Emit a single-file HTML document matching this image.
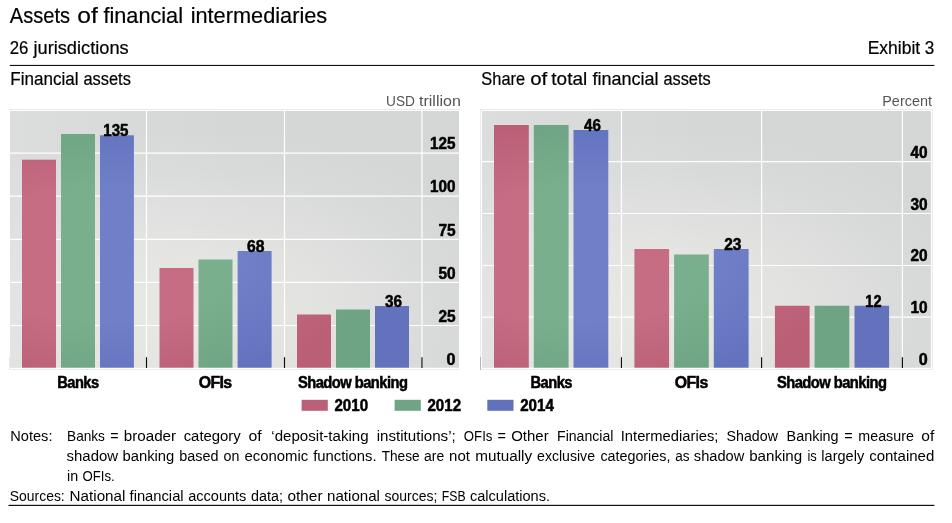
<!DOCTYPE html>
<html><head><meta charset="utf-8"><title>Assets of financial intermediaries</title>
<style>
html,body{margin:0;padding:0;background:#fff;}
body{width:952px;height:523px;overflow:hidden;position:relative;font-family:"Liberation Sans",sans-serif;}
svg{position:absolute;left:0;top:0;display:block;}
text{font-family:"Liberation Sans",sans-serif;}
.t{fill:#000;stroke:#000;stroke-width:0.2px;}
.ax{font-weight:bold;fill:#000;stroke:#000;stroke-width:0.5px;stroke-linejoin:round;}
.r{fill:#bb6077;} .g{fill:#6fa584;} .b{fill:#6171bc;}
.gl{stroke:#fff;stroke-width:1.2;fill:none;}
.tk{stroke:#0a0a0a;stroke-width:1.15;fill:none;}
.note{fill:#000;}
.u{fill:#555;}
</style></head><body>
<svg width="952" height="523" viewBox="0 0 952 523">
<defs>
<radialGradient id="hl" cx="0.42" cy="0.78" r="0.72" gradientUnits="objectBoundingBox">
<stop offset="0" stop-color="#fffff4" stop-opacity="0.44"/>
<stop offset="0.4" stop-color="#fffff6" stop-opacity="0.31"/>
<stop offset="0.75" stop-color="#fff" stop-opacity="0.09"/>
<stop offset="1" stop-color="#fff" stop-opacity="0"/>
</radialGradient>
<linearGradient id="hl3" x1="0" y1="0" x2="1" y2="0"><stop offset="0" stop-color="#fff" stop-opacity="0.17"/><stop offset="0.5" stop-color="#fff" stop-opacity="0"/></linearGradient>
</defs>
<rect width="952" height="523" fill="#fff"/>

<text class="t" transform="translate(9.75 22.9) scale(0.9265 1)" font-size="21.7">Assets</text>
<text class="t" transform="translate(77.25 22.9) scale(1.1334 1)" font-size="21.7">of</text>
<text class="t" transform="translate(103.45 22.9) scale(0.9991 1)" font-size="21.7">financial</text>
<text class="t" transform="translate(190.65 22.9) scale(1.0029 1)" font-size="21.7">intermediaries</text>
<text class="t" transform="translate(9.75 53.9) scale(0.9607 1)" font-size="17.5">26</text>
<text class="t" transform="translate(33.45 53.9) scale(1.0413 1)" font-size="17.5">jurisdictions</text>
<text class="t" transform="translate(867.65 53.8) scale(0.9995 1)" font-size="17.5">Exhibit</text>
<text class="t" transform="translate(924.75 53.8) scale(0.9761 1)" font-size="17.5">3</text>
<rect x="9.8" y="64.9" width="924.6" height="1.1" fill="#111"/>
<text class="t" transform="translate(10.25 84.6) scale(0.9584 1)" font-size="17.8">Financial</text>
<text class="t" transform="translate(83.45 84.6) scale(0.9224 1)" font-size="17.8">assets</text>
<text class="t" transform="translate(481.35 84.6) scale(0.9210 1)" font-size="17.8">Share</text>
<text class="t" transform="translate(530.25 84.6) scale(1.1464 1)" font-size="17.8">of</text>
<text class="t" transform="translate(551.35 84.6) scale(1.0652 1)" font-size="17.8">total</text>
<text class="t" transform="translate(592.45 84.6) scale(1.0117 1)" font-size="17.8">financial</text>
<text class="t" transform="translate(663.45 84.6) scale(0.9185 1)" font-size="17.8">assets</text>
<text class="u" transform="translate(386.05 105.6) scale(0.9777 1)" font-size="14">USD</text>
<text class="u" transform="translate(419.05 105.6) scale(1.1432 1)" font-size="14">trillion</text>
<text class="u" transform="translate(882.25 105.7) scale(1.0301 1)" font-size="14">Percent</text>
<rect x="9" y="109" width="451" height="1" fill="#e9e9e9"/>
<rect x="9" y="369" width="451" height="1" fill="#ececec"/>
<rect x="9.2" y="357" width="0.7" height="12.6" fill="#e0e0e0"/>
<rect x="10" y="111" width="449" height="256.7" fill="#d5d6d6"/>
<rect x="10" y="111" width="449" height="256.7" fill="url(#hl)"/>
<rect x="10" y="111" width="449" height="256.7" fill="url(#hl3)"/>
<line class="gl" x1="10" x2="459" y1="153.10000000000002" y2="153.10000000000002"/>
<line class="gl" x1="10" x2="459" y1="196.20000000000002" y2="196.20000000000002"/>
<line class="gl" x1="10" x2="459" y1="239.3" y2="239.3"/>
<line class="gl" x1="10" x2="459" y1="282.40000000000003" y2="282.40000000000003"/>
<line class="gl" x1="10" x2="459" y1="325.5" y2="325.5"/>
<line class="gl" x1="146.5" x2="146.5" y1="111" y2="367.7"/>
<line class="gl" x1="284.5" x2="284.5" y1="111" y2="367.7"/>
<line class="gl" x1="421.95" x2="421.95" y1="111" y2="367.7"/>
<radialGradient id="c10r" gradientUnits="userSpaceOnUse" cx="0" cy="0" r="1" gradientTransform="translate(108.8 254.8) scale(269.4 133.5)"><stop offset="0" stop-color="#c66d83"/><stop offset="0.5" stop-color="#c66d83"/><stop offset="1" stop-color="#ba5f76"/></radialGradient>
<radialGradient id="c10g" gradientUnits="userSpaceOnUse" cx="0" cy="0" r="1" gradientTransform="translate(108.8 254.8) scale(269.4 133.5)"><stop offset="0" stop-color="#79af8d"/><stop offset="0.5" stop-color="#79af8d"/><stop offset="1" stop-color="#6ea483"/></radialGradient>
<radialGradient id="c10b" gradientUnits="userSpaceOnUse" cx="0" cy="0" r="1" gradientTransform="translate(108.8 254.8) scale(269.4 133.5)"><stop offset="0" stop-color="#6f7fc8"/><stop offset="0.5" stop-color="#6f7fc8"/><stop offset="1" stop-color="#6272bd"/></radialGradient>
<rect x="22" y="159.7" width="34.00" height="208.00" fill="url(#c10r)"/>
<rect x="61" y="134" width="34.00" height="233.70" fill="url(#c10g)"/>
<rect x="100" y="135.3" width="33.90" height="232.40" fill="url(#c10b)"/>
<rect x="159.5" y="268" width="34.00" height="99.70" fill="url(#c10r)"/>
<rect x="198.5" y="259.5" width="34.00" height="108.20" fill="url(#c10g)"/>
<rect x="237.6" y="251" width="34.00" height="116.70" fill="url(#c10b)"/>
<rect x="297" y="314.5" width="34.00" height="53.20" fill="url(#c10r)"/>
<rect x="336" y="309.5" width="34.00" height="58.20" fill="url(#c10g)"/>
<rect x="375" y="306" width="34.00" height="61.70" fill="url(#c10b)"/>
<line class="tk" x1="146.5" x2="146.5" y1="357.2" y2="367.9"/>
<line class="tk" x1="284.5" x2="284.5" y1="357.2" y2="367.9"/>
<line class="tk" x1="421.95" x2="421.95" y1="357.2" y2="367.9"/>
<text class="ax" transform="translate(430.12 149.2) scale(0.9375 1)" font-size="16.3">125</text>
<text class="ax" transform="translate(430.12 192.3) scale(0.9375 1)" font-size="16.3">100</text>
<text class="ax" transform="translate(438.42 235.5) scale(0.9479 1)" font-size="16.3">75</text>
<text class="ax" transform="translate(438.42 278.6) scale(0.9479 1)" font-size="16.3">50</text>
<text class="ax" transform="translate(438.42 321.8) scale(0.9479 1)" font-size="16.3">25</text>
<text class="ax" transform="translate(446.62 365.0) scale(0.9903 1)" font-size="16.3">0</text>
<text class="ax" transform="translate(103.27 136.3) scale(0.9246 1)" font-size="16.3">135</text>
<text class="ax" transform="translate(246.92 251.7) scale(0.9645 1)" font-size="16.3">68</text>
<text class="ax" transform="translate(384.92 306.7) scale(0.9424 1)" font-size="16.3">36</text>
<text class="ax" transform="translate(57.35 388.0) scale(0.9406 1)" font-size="15.6" letter-spacing="-0.6">Banks</text>
<text class="ax" transform="translate(198.65 388.0) scale(1.0200 1)" font-size="15.6" letter-spacing="-0.6">OFIs</text>
<text class="ax" transform="translate(297.95 388.0) scale(0.9473 1)" font-size="15.6" letter-spacing="-0.6">Shadow banking</text>
<rect x="480.2" y="109" width="452.8" height="1" fill="#e9e9e9"/>
<rect x="480.2" y="369" width="452.8" height="1" fill="#ececec"/>
<rect x="480.2" y="109" width="0.8" height="261" fill="#e4e4e4"/>
<rect x="932" y="109" width="1" height="261" fill="#ececec"/>
<rect x="480.2" y="357" width="0.8" height="12.8" fill="#a8a8a8"/>
<rect x="482" y="111" width="448.9" height="256.7" fill="#d5d6d6"/>
<rect x="482" y="111" width="448.9" height="256.7" fill="url(#hl)"/>
<rect x="482" y="111" width="448.9" height="256.7" fill="url(#hl3)"/>
<line class="gl" x1="482" x2="930.9" y1="161.60000000000002" y2="161.60000000000002"/>
<line class="gl" x1="482" x2="930.9" y1="213.5" y2="213.5"/>
<line class="gl" x1="482" x2="930.9" y1="265.5" y2="265.5"/>
<line class="gl" x1="482" x2="930.9" y1="317.1" y2="317.1"/>
<line class="gl" x1="621.45" x2="621.45" y1="111" y2="367.7"/>
<line class="gl" x1="761.6" x2="761.6" y1="111" y2="367.7"/>
<line class="gl" x1="902.4" x2="902.4" y1="111" y2="367.7"/>
<radialGradient id="c482r" gradientUnits="userSpaceOnUse" cx="0" cy="0" r="1" gradientTransform="translate(580.8 254.8) scale(269.3 133.5)"><stop offset="0" stop-color="#c66d83"/><stop offset="0.5" stop-color="#c66d83"/><stop offset="1" stop-color="#ba5f76"/></radialGradient>
<radialGradient id="c482g" gradientUnits="userSpaceOnUse" cx="0" cy="0" r="1" gradientTransform="translate(580.8 254.8) scale(269.3 133.5)"><stop offset="0" stop-color="#79af8d"/><stop offset="0.5" stop-color="#79af8d"/><stop offset="1" stop-color="#6ea483"/></radialGradient>
<radialGradient id="c482b" gradientUnits="userSpaceOnUse" cx="0" cy="0" r="1" gradientTransform="translate(580.8 254.8) scale(269.3 133.5)"><stop offset="0" stop-color="#6f7fc8"/><stop offset="0.5" stop-color="#6f7fc8"/><stop offset="1" stop-color="#6272bd"/></radialGradient>
<rect x="494" y="125" width="34.80" height="242.70" fill="url(#c482r)"/>
<rect x="533.8" y="125" width="34.80" height="242.70" fill="url(#c482g)"/>
<rect x="573.5" y="130" width="34.80" height="237.70" fill="url(#c482b)"/>
<rect x="634.4" y="249" width="34.70" height="118.70" fill="url(#c482r)"/>
<rect x="674.1" y="254.5" width="34.70" height="113.20" fill="url(#c482g)"/>
<rect x="713.8" y="249" width="34.80" height="118.70" fill="url(#c482b)"/>
<rect x="774.9" y="305.75" width="34.70" height="61.95" fill="url(#c482r)"/>
<rect x="814.6" y="305.75" width="34.70" height="61.95" fill="url(#c482g)"/>
<rect x="854.5" y="305.75" width="34.60" height="61.95" fill="url(#c482b)"/>
<line class="tk" x1="621.45" x2="621.45" y1="357.2" y2="367.9"/>
<line class="tk" x1="761.6" x2="761.6" y1="357.2" y2="367.9"/>
<line class="tk" x1="902.4" x2="902.4" y1="357.2" y2="367.9"/>
<text class="ax" transform="translate(910.52 157.7) scale(0.9479 1)" font-size="16.3">40</text>
<text class="ax" transform="translate(910.52 209.6) scale(0.9479 1)" font-size="16.3">30</text>
<text class="ax" transform="translate(910.52 261.4) scale(0.9479 1)" font-size="16.3">20</text>
<text class="ax" transform="translate(910.52 312.7) scale(0.9479 1)" font-size="16.3">10</text>
<text class="ax" transform="translate(918.72 365.0) scale(0.9903 1)" font-size="16.3">0</text>
<text class="ax" transform="translate(584.12 131.3) scale(0.9314 1)" font-size="16.3">46</text>
<text class="ax" transform="translate(724.22 250.0) scale(0.9535 1)" font-size="16.3">23</text>
<text class="ax" transform="translate(865.32 306.6) scale(0.8927 1)" font-size="16.3">12</text>
<text class="ax" transform="translate(530.55 388.0) scale(0.9429 1)" font-size="15.6" letter-spacing="-0.6">Banks</text>
<text class="ax" transform="translate(674.75 388.0) scale(1.0200 1)" font-size="15.6" letter-spacing="-0.6">OFIs</text>
<text class="ax" transform="translate(776.95 388.0) scale(0.9473 1)" font-size="15.6" letter-spacing="-0.6">Shadow banking</text>
<rect x="301.6" y="399.8" width="26.2" height="11" class="r"/>
<text class="ax" transform="translate(334.43 410.7) scale(0.9528 1)" font-size="15.9">2010</text>
<rect x="394.6" y="399.8" width="26.2" height="11" class="g"/>
<text class="ax" transform="translate(427.43 410.7) scale(0.9528 1)" font-size="15.9">2012</text>
<rect x="487.3" y="399.8" width="26.2" height="11" class="b"/>
<text class="ax" transform="translate(520.13 410.7) scale(0.9528 1)" font-size="15.9">2014</text>
<text class="note" transform="translate(10.25 441.1) scale(0.9757 1)" font-size="15">Notes:</text>
<text class="note" transform="translate(67.05 441.1) scale(0.9091 1)" font-size="15">Banks</text>
<text class="note" transform="translate(110.25 441.1) scale(0.9475 1)" font-size="15">=</text>
<text class="note" transform="translate(123.75 441.1) scale(1.0135 1)" font-size="15">broader</text>
<text class="note" transform="translate(183.65 441.1) scale(0.9942 1)" font-size="15">category</text>
<text class="note" transform="translate(248.45 441.1) scale(1.0552 1)" font-size="15">of</text>
<text class="note" transform="translate(271.35 441.1) scale(1.0060 1)" font-size="15">‘deposit-taking</text>
<text class="note" transform="translate(376.65 441.1) scale(1.0106 1)" font-size="15">institutions’;</text>
<text class="note" transform="translate(463.85 441.1) scale(0.8801 1)" font-size="15">OFIs</text>
<text class="note" transform="translate(497.55 441.1) scale(0.9703 1)" font-size="15">=</text>
<text class="note" transform="translate(511.15 441.1) scale(0.9996 1)" font-size="15">Other</text>
<text class="note" transform="translate(557.05 441.1) scale(0.9395 1)" font-size="15">Financial</text>
<text class="note" transform="translate(620.75 441.1) scale(0.9848 1)" font-size="15">Intermediaries;</text>
<text class="note" transform="translate(726.55 441.1) scale(0.9482 1)" font-size="15">Shadow</text>
<text class="note" transform="translate(786.55 441.1) scale(0.9611 1)" font-size="15">Banking</text>
<text class="note" transform="translate(844.15 441.1) scale(0.9589 1)" font-size="15">=</text>
<text class="note" transform="translate(858.35 441.1) scale(0.9510 1)" font-size="15">measure</text>
<text class="note" transform="translate(921.35 441.1) scale(1.0392 1)" font-size="15">of</text>
<text class="note" transform="translate(66.55 461.3) scale(0.9980 1)" font-size="15">shadow</text>
<text class="note" transform="translate(122.45 461.3) scale(0.9877 1)" font-size="15">banking</text>
<text class="note" transform="translate(179.15 461.3) scale(0.9616 1)" font-size="15">based</text>
<text class="note" transform="translate(223.45 461.3) scale(0.9530 1)" font-size="15">on</text>
<text class="note" transform="translate(244.55 461.3) scale(0.9938 1)" font-size="15">economic</text>
<text class="note" transform="translate(313.15 461.3) scale(0.9906 1)" font-size="15">functions.</text>
<text class="note" transform="translate(381.65 461.3) scale(0.9091 1)" font-size="15">These</text>
<text class="note" transform="translate(424.05 461.3) scale(0.9317 1)" font-size="15">are</text>
<text class="note" transform="translate(449.05 461.3) scale(1.0023 1)" font-size="15">not</text>
<text class="note" transform="translate(475.25 461.3) scale(1.0187 1)" font-size="15">mutually</text>
<text class="note" transform="translate(537.05 461.3) scale(0.9402 1)" font-size="15">exclusive</text>
<text class="note" transform="translate(600.45 461.3) scale(0.9540 1)" font-size="15">categories,</text>
<text class="note" transform="translate(675.25 461.3) scale(0.9026 1)" font-size="15">as</text>
<text class="note" transform="translate(693.85 461.3) scale(0.9768 1)" font-size="15">shadow</text>
<text class="note" transform="translate(749.15 461.3) scale(1.0106 1)" font-size="15">banking</text>
<text class="note" transform="translate(807.45 461.3) scale(0.8678 1)" font-size="15">is</text>
<text class="note" transform="translate(821.35 461.3) scale(0.9709 1)" font-size="15">largely</text>
<text class="note" transform="translate(869.15 461.3) scale(1.0022 1)" font-size="15">contained</text>
<text class="note" transform="translate(67.05 481.3) scale(0.9508 1)" font-size="15">in</text>
<text class="note" transform="translate(82.55 481.3) scale(0.8782 1)" font-size="15">OFIs.</text>
<text class="note" transform="translate(9.75 501.1) scale(0.9291 1)" font-size="15">Sources:</text>
<text class="note" transform="translate(69.55 501.1) scale(1.0157 1)" font-size="15">National</text>
<text class="note" transform="translate(129.55 501.1) scale(0.9830 1)" font-size="15">financial</text>
<text class="note" transform="translate(188.15 501.1) scale(0.9711 1)" font-size="15">accounts</text>
<text class="note" transform="translate(251.05 501.1) scale(0.9562 1)" font-size="15">data;</text>
<text class="note" transform="translate(287.45 501.1) scale(1.0266 1)" font-size="15">other</text>
<text class="note" transform="translate(327.05 501.1) scale(1.0068 1)" font-size="15">national</text>
<text class="note" transform="translate(384.55 501.1) scale(0.9332 1)" font-size="15">sources;</text>
<text class="note" transform="translate(441.85 501.1) scale(0.8158 1)" font-size="15">FSB</text>
<text class="note" transform="translate(469.95 501.1) scale(0.9704 1)" font-size="15">calculations.</text>
<rect x="8.5" y="504.8" width="925.9" height="1.2" fill="#111"/>
</svg></body></html>
